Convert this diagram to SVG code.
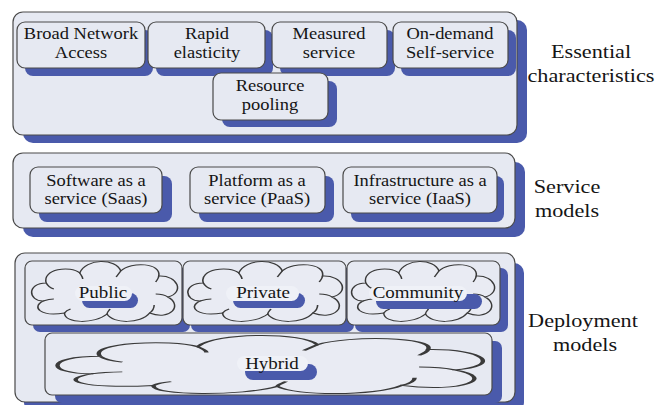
<svg xmlns="http://www.w3.org/2000/svg" width="655" height="405" viewBox="0 0 655 405">
<style>
.sh{fill:#4a5aab}
.panel{fill:#e6e9f2;stroke:#4a4a4a;stroke-width:1.2}
.box{fill:#e6e9f2;stroke:#4a4a4a;stroke-width:1.2}
.cloud{fill:#e9ebf3;stroke:#3a3a3a;stroke-width:1;vector-effect:non-scaling-stroke}
.arc{fill:none;stroke:#3a3a3a;stroke-width:1;vector-effect:non-scaling-stroke}
.pill{fill:#eff1f7}
text{font-family:'Liberation Serif','DejaVu Serif','Noto Serif',serif;text-anchor:middle;fill:#151515}
.t{font-size:16.5px}
.L{font-size:19px}
</style>
<defs>
<path id="cloudShape" d="M10,40 C0,40 -1,22 12,22 C9,8 28,4 34,12 C38,-3 58,-3 61,10 C68,0 88,2 86,15 C99,14 103,32 92,36 C102,44 94,60 80,52 C74,63 56,63 52,53 C44,63 24,63 24,52 C8,56 2,46 10,40 Z"/>
<path id="cloudArcs" d="M12,22 C13,25 15,27 17,28 M34,12 C35,14 36,16 36,18 M61,10 C60,12 59,14 58,16 M86,15 C86,17 85,19 84,21 M92,36 C90,34 87,33 84,33 M80,52 C82,50 83,47 83,44 M52,53 C52,51 53,50 54,48 M24,52 C25,50 26,49 28,48 M10,40 C12,39 14,38 17,38"/>
</defs>
<rect width="655" height="405" fill="#ffffff"/>

<g id="connectors"/>

<g id="essential">
<rect class="sh" x="23" y="20" width="504" height="123" rx="10"/>
<rect class="panel" x="13" y="12" width="504" height="123" rx="10"/>
<text class="L" transform="translate(591 58) scale(1.17 1)">Essential</text>
<text class="L" transform="translate(591 82) scale(1.17 1)">characteristics</text>
</g>
<g id="broad">
<rect class="sh" x="25" y="30" width="128" height="46" rx="8"/>
<rect class="box" x="17" y="22" width="128" height="46" rx="8"/>
<text class="t" transform="translate(81 39) scale(1.12 1)">Broad Network</text>
<text class="t" transform="translate(81 58) scale(1.12 1)">Access</text>
</g>
<g id="rapid">
<rect class="sh" x="156" y="30" width="117" height="46" rx="8"/>
<rect class="box" x="148" y="22" width="117" height="46" rx="8"/>
<text class="t" transform="translate(207 39) scale(1.12 1)">Rapid</text>
<text class="t" transform="translate(207 58) scale(1.12 1)">elasticity</text>
</g>
<g id="measured">
<rect class="sh" x="280" y="30" width="115" height="46" rx="8"/>
<rect class="box" x="272" y="22" width="115" height="46" rx="8"/>
<text class="t" transform="translate(329 39) scale(1.12 1)">Measured</text>
<text class="t" transform="translate(329 58) scale(1.12 1)">service</text>
</g>
<g id="ondemand">
<rect class="sh" x="401" y="30" width="115" height="46" rx="8"/>
<rect class="box" x="393" y="22" width="115" height="46" rx="8"/>
<text class="t" transform="translate(450 39) scale(1.12 1)">On-demand</text>
<text class="t" transform="translate(450 58) scale(1.12 1)">Self-service</text>
</g>
<g id="pooling">
<rect class="sh" x="222" y="81" width="115" height="46" rx="8"/>
<rect class="box" x="213" y="73" width="115" height="47" rx="8"/>
<text class="t" transform="translate(270 91) scale(1.12 1)">Resource</text>
<text class="t" transform="translate(270 110) scale(1.12 1)">pooling</text>
</g>

<g id="service">
<rect class="sh" x="23" y="162" width="502" height="75" rx="10"/>
<rect class="panel" x="13" y="153" width="502" height="75" rx="10"/>
<text class="L" transform="translate(567 193) scale(1.17 1)">Service</text>
<text class="L" transform="translate(567 217) scale(1.17 1)">models</text>
</g>
<g id="saas">
<rect class="sh" x="39" y="176" width="133" height="46" rx="8"/>
<rect class="box" x="30" y="167" width="132" height="46" rx="8"/>
<text class="t" transform="translate(96 186) scale(1.12 1)">Software as a</text>
<text class="t" transform="translate(96 204) scale(1.12 1)">service (Saas)</text>
</g>
<g id="paas">
<rect class="sh" x="199" y="176" width="135" height="46" rx="8"/>
<rect class="box" x="190" y="167" width="135" height="46" rx="8"/>
<text class="t" transform="translate(257 186) scale(1.12 1)">Platform as a</text>
<text class="t" transform="translate(257 204) scale(1.12 1)">service (PaaS)</text>
</g>
<g id="iaas">
<rect class="sh" x="351" y="176" width="153" height="46" rx="8"/>
<rect class="box" x="343" y="167" width="154" height="46" rx="8"/>
<text class="t" transform="translate(420 186) scale(1.12 1)">Infrastructure as a</text>
<text class="t" transform="translate(420 204) scale(1.12 1)">service (IaaS)</text>
</g>

<g id="deployment">
<rect class="sh" x="24" y="263" width="500" height="149" rx="10"/>
<rect class="panel" x="15" y="253" width="500" height="149" rx="10"/>
<text class="L" transform="translate(583 327) scale(1.17 1)">Deployment</text>
<text class="L" transform="translate(585 351) scale(1.17 1)">models</text>
</g>
<g id="public">
<rect class="sh" x="33" y="268" width="157" height="64" rx="7"/>
<rect class="box" x="25" y="261" width="157" height="64" rx="7"/>
<use href="#cloudShape" class="cloud" transform="translate(28 261) scale(1.52 1)"/>
<use href="#cloudArcs" class="arc" transform="translate(28 261) scale(1.52 1)"/>
<rect class="sh" x="82" y="293" width="56" height="15" rx="7.5"/>
<rect class="pill" x="75" y="286" width="57" height="15" rx="7.5"/>
<text class="t" transform="translate(103 298) scale(1.15 1)">Public</text>
</g>
<g id="private">
<rect class="sh" x="191" y="268" width="163" height="64" rx="7"/>
<rect class="box" x="183" y="261" width="163" height="64" rx="7"/>
<use href="#cloudShape" class="cloud" transform="translate(184 261) scale(1.61 1)"/>
<use href="#cloudArcs" class="arc" transform="translate(184 261) scale(1.61 1)"/>
<rect class="sh" x="233" y="293" width="72" height="15" rx="7.5"/>
<rect class="pill" x="226" y="286" width="73" height="15" rx="7.5"/>
<text class="t" transform="translate(263 298) scale(1.15 1)">Private</text>
</g>
<g id="community">
<rect class="sh" x="355" y="268" width="153" height="64" rx="7"/>
<rect class="box" x="347" y="261" width="153" height="64" rx="7"/>
<use href="#cloudShape" class="cloud" transform="translate(348 261) scale(1.49 1)"/>
<use href="#cloudArcs" class="arc" transform="translate(348 261) scale(1.49 1)"/>
<rect class="sh" x="376" y="294" width="106" height="15" rx="7.5"/>
<rect class="pill" x="369" y="286" width="98" height="15" rx="7.5"/>
<text class="t" transform="translate(418 298) scale(1.15 1)">Community</text>
</g>
<g id="hybrid">
<rect class="sh" x="55" y="341" width="447" height="62" rx="7"/>
<rect class="box" x="45" y="333" width="447" height="62" rx="7"/>
<use href="#cloudShape" class="cloud" transform="translate(47 335) scale(4.43 0.97)"/>
<use href="#cloudArcs" class="arc" transform="translate(47 335) scale(4.43 0.97)"/>
<rect class="sh" x="245" y="364" width="72" height="16" rx="8"/>
<rect class="pill" x="237" y="356" width="71" height="15" rx="7.5"/>
<text class="t" transform="translate(272 369) scale(1.15 1)">Hybrid</text>
</g>
</svg>
